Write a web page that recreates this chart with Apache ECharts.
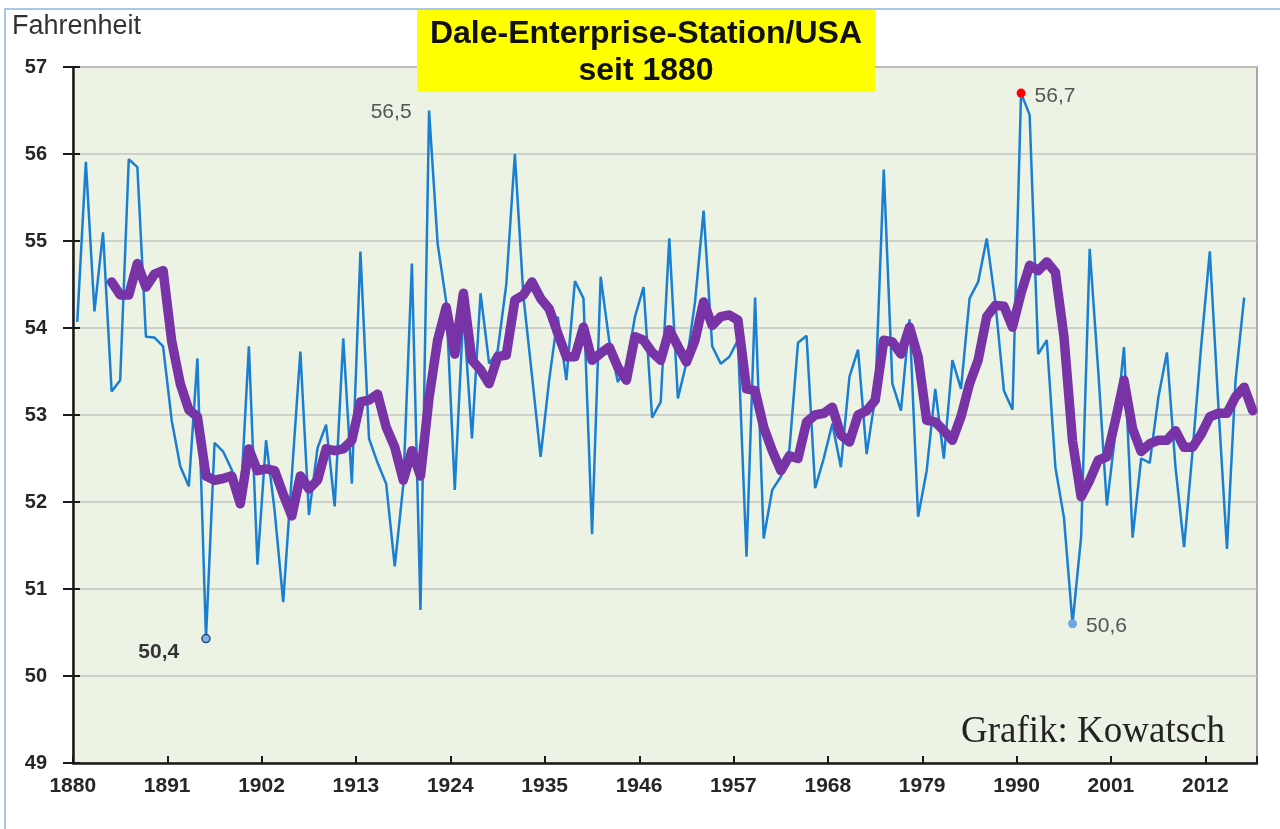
<!DOCTYPE html>
<html>
<head>
<meta charset="utf-8">
<title>Dale-Enterprise-Station/USA</title>
<script src="https://cdn.jsdelivr.net/npm/echarts@6/dist/echarts.min.js"></script>
<style>
  html, body { margin: 0; padding: 0; background: #fff; }
  #chart { width: 1280px; height: 829px; }
</style>
</head>
<body>
<div id="chart"></div>
<script>
// Jahre 1880 .. 2017 (Kategorieachse)
const years = Array.from({ length: 138 }, (_, i) => String(1880 + i))

// Jahresmittel in Fahrenheit
const annualTemp = [
  54.07, 55.91, 54.19, 55.10, 53.27, 53.40, 55.94, 55.85, 53.90, 53.89, // 1880
  53.79, 52.94, 52.41, 52.18, 53.65, 50.43, 52.68, 52.58, 52.37, 51.95, // 1890
  53.79, 51.28, 52.71, 51.90, 50.85, 52.30, 53.73, 51.85, 52.62, 52.89, // 1900
  51.95, 53.88, 52.21, 54.88, 52.73, 52.45, 52.21, 51.26, 52.20, 54.74, // 1910
  50.76, 56.50, 54.97, 54.30, 52.14, 54.20, 52.73, 54.40, 53.59, 53.74, // 1920
  54.50, 56.00, 54.36, 53.45, 52.52, 53.40, 54.13, 53.40, 54.54, 54.34, // 1930
  51.63, 54.59, 53.85, 53.38, 53.55, 54.13, 54.47, 52.97, 53.15, 55.03, // 1940
  53.19, 53.60, 54.30, 55.35, 53.79, 53.59, 53.67, 53.86, 51.37, 54.35, // 1950
  51.58, 52.14, 52.29, 52.60, 53.83, 53.91, 52.16, 52.50, 52.90, 52.40, // 1960
  53.44, 53.75, 52.55, 53.20, 55.82, 53.36, 53.05, 54.10, 51.83, 52.36, // 1970
  53.30, 52.50, 53.63, 53.30, 54.34, 54.53, 55.03, 54.30, 53.28, 53.06, // 1980
  56.70, 56.45, 53.70, 53.86, 52.40, 51.82, 50.60, 51.60, 54.91, 53.50, // 1990
  51.96, 52.80, 53.78, 51.59, 52.50, 52.45, 53.20, 53.72, 52.40, 51.48, // 2000
  52.60, 53.80, 54.88, 53.10, 51.46, 53.40, 54.35, null                  // 2010
]

// geglaettete Kurve (violett)
const smoothTemp = [
  null, null, null, null, 54.53, 54.38, 54.38, 54.74, 54.47, 54.62,      // 1880
  54.66, 53.85, 53.36, 53.06, 52.98, 52.30, 52.25, 52.27, 52.30, 51.98, // 1890
  52.61, 52.36, 52.38, 52.36, 52.09, 51.84, 52.30, 52.15, 52.25, 52.61, // 1900
  52.59, 52.61, 52.71, 53.15, 53.17, 53.24, 52.86, 52.63, 52.25, 52.59, // 1910
  52.30, 53.20, 53.86, 54.24, 53.70, 54.40, 53.63, 53.52, 53.36, 53.67, // 1920
  53.69, 54.32, 54.38, 54.53, 54.34, 54.22, 53.94, 53.67, 53.67, 54.01, // 1930
  53.63, 53.71, 53.78, 53.55, 53.40, 53.90, 53.86, 53.72, 53.63, 53.98, // 1940
  53.79, 53.61, 53.86, 54.30, 54.03, 54.13, 54.15, 54.09, 53.30, 53.28, // 1950
  52.86, 52.59, 52.36, 52.53, 52.50, 52.92, 53.00, 53.02, 53.09, 52.77, // 1960
  52.69, 53.00, 53.05, 53.17, 53.86, 53.84, 53.70, 54.01, 53.67, 52.94, // 1970
  52.92, 52.82, 52.71, 52.98, 53.36, 53.63, 54.13, 54.26, 54.25, 54.01, // 1980
  54.40, 54.72, 54.66, 54.76, 54.64, 53.90, 52.70, 52.06, 52.25, 52.48, // 1990
  52.52, 52.94, 53.40, 52.84, 52.58, 52.67, 52.71, 52.71, 52.82, 52.63, // 2000
  52.63, 52.78, 52.98, 53.02, 53.02, 53.21, 53.32, 53.05                 // 2010
]

// beschriftete Extremwerte
const labeledYears = ['1895', '1921', '1990', '1996']

const yMin = 49
const yMax = 57
const yStep = 1

const chart = echarts.init(document.getElementById('chart'))

const fmt = (v) => v.toFixed(1).replace('.', ',')
const valueOf = (year) => annualTemp[years.indexOf(year)]
const labelFont = 'Liberation Sans, Arial, sans-serif'

const markStyles = {
  '1895': {
    symbolSize: 8,
    itemStyle: { color: '#7fb3e6', borderColor: '#2a4a7a', borderWidth: 1.5 },
    label: { position: 'left', offset: [-17, 14], fontWeight: 'bold', color: '#333' }
  },
  '1921': {
    symbolSize: 1,
    itemStyle: { color: 'rgba(0,0,0,0)' },
    label: { position: 'left', offset: [-12, 2], color: '#555' }
  },
  '1990': {
    symbolSize: 9,
    itemStyle: { color: '#ff0000' },
    label: { position: 'right', offset: [4, 3], color: '#555' }
  },
  '1996': {
    symbolSize: 9,
    itemStyle: { color: '#6ea8e2' },
    label: { position: 'right', offset: [4, 2], color: '#555' }
  }
}

const markData = labeledYears.map((y) => {
  const s = markStyles[y]
  return {
    coord: [y, valueOf(y)],
    symbol: 'circle',
    symbolSize: s.symbolSize,
    itemStyle: s.itemStyle,
    label: Object.assign({
      show: true,
      formatter: fmt(valueOf(y)),
      fontSize: 21,
      fontFamily: labelFont
    }, s.label)
  }
})

const hiddenLine = { show: true, lineStyle: { color: 'rgba(0,0,0,0)', width: 0 } }

const option = {
  animation: false,
  backgroundColor: '#ffffff',
  grid: {
    left: 73,
    right: 23,
    top: 67,
    bottom: 66,
    show: true,
    backgroundColor: '#ecf3e4',
    borderColor: '#a8a8a8',
    borderWidth: 2
  },
  xAxis: [
    {
      type: 'category',
      data: years,
      boundaryGap: true,
      position: 'bottom',
      axisLine: { lineStyle: { color: '#1a1a1a', width: 2.5 } },
      axisTick: { interval: 10, length: 8, lineStyle: { color: '#1a1a1a', width: 2 } },
      axisLabel: {
        interval: 10,
        margin: 13,
        padding: [0, 9, 0, 0],
        fontSize: 21,
        fontWeight: 'bold',
        fontFamily: labelFont,
        color: '#262626'
      },
      splitLine: { show: false }
    },
    {
      type: 'category',
      data: years,
      boundaryGap: true,
      position: 'bottom',
      axisLine: hiddenLine,
      axisTick: { show: true, inside: true, interval: 10, length: 7, lineStyle: { color: '#1a1a1a', width: 2 } },
      axisLabel: { show: false },
      splitLine: { show: false }
    }
  ],
  yAxis: [
    {
      type: 'value',
      min: yMin,
      max: yMax,
      interval: yStep,
      position: 'left',
      axisLine: { show: true, lineStyle: { color: '#1a1a1a', width: 2.5 } },
      axisTick: { show: true, length: 10, lineStyle: { color: '#1a1a1a', width: 2 } },
      axisLabel: {
        margin: 26,
        fontSize: 20,
        fontWeight: 'bold',
        fontFamily: labelFont,
        color: '#262626'
      },
      splitLine: { lineStyle: { color: '#c4c4c4', width: 1.5 } }
    },
    {
      type: 'value',
      min: yMin,
      max: yMax,
      interval: yStep,
      position: 'left',
      axisLine: hiddenLine,
      axisTick: { show: true, inside: true, length: 7, lineStyle: { color: '#1a1a1a', width: 2 } },
      axisLabel: { show: false },
      splitLine: { show: false }
    }
  ],
  series: [
    {
      name: 'Jahresmittel',
      type: 'line',
      data: annualTemp,
      symbol: 'none',
      lineStyle: { color: '#1a7fd0', width: 2.5 },
      z: 2,
      markPoint: { data: markData, z: 5 }
    },
    {
      name: 'Mittel',
      type: 'line',
      data: smoothTemp,
      symbol: 'none',
      lineStyle: { color: '#7833a6', width: 9.5, cap: 'round', join: 'round' },
      z: 3
    }
  ],
  graphic: [
    {
      type: 'rect',
      shape: { x: 5, y: 9, width: 1280, height: 830 },
      style: { fill: 'none', stroke: '#8fb6de', lineWidth: 1.5 },
      z: 0,
      silent: true
    },
    {
      type: 'text',
      x: 12,
      y: 27,
      style: {
        text: 'Fahrenheit',
        font: '27px Liberation Sans, Arial, sans-serif',
        verticalAlign: 'middle',
        fill: '#333'
      }
    },
    {
      type: 'rect',
      shape: { x: 417, y: 10, width: 458, height: 82 },
      style: { fill: '#ffff00' },
      z: 100
    },
    {
      type: 'text',
      x: 646,
      y: 53,
      z: 101,
      style: {
        text: 'Dale-Enterprise-Station/USA\nseit 1880',
        font: 'bold 32px Liberation Sans, Arial, sans-serif',
        lineHeight: 37,
        align: 'center',
        verticalAlign: 'middle',
        fill: '#111'
      }
    },
    {
      type: 'text',
      x: 1225,
      y: 732,
      z: 101,
      style: {
        text: 'Grafik: Kowatsch',
        font: '37px Liberation Serif, Times New Roman, serif',
        align: 'right',
        verticalAlign: 'middle',
        fill: '#222'
      }
    }
  ]
}

chart.setOption(option)
window.addEventListener('resize', () => chart.resize())
</script>
</body>
</html>
